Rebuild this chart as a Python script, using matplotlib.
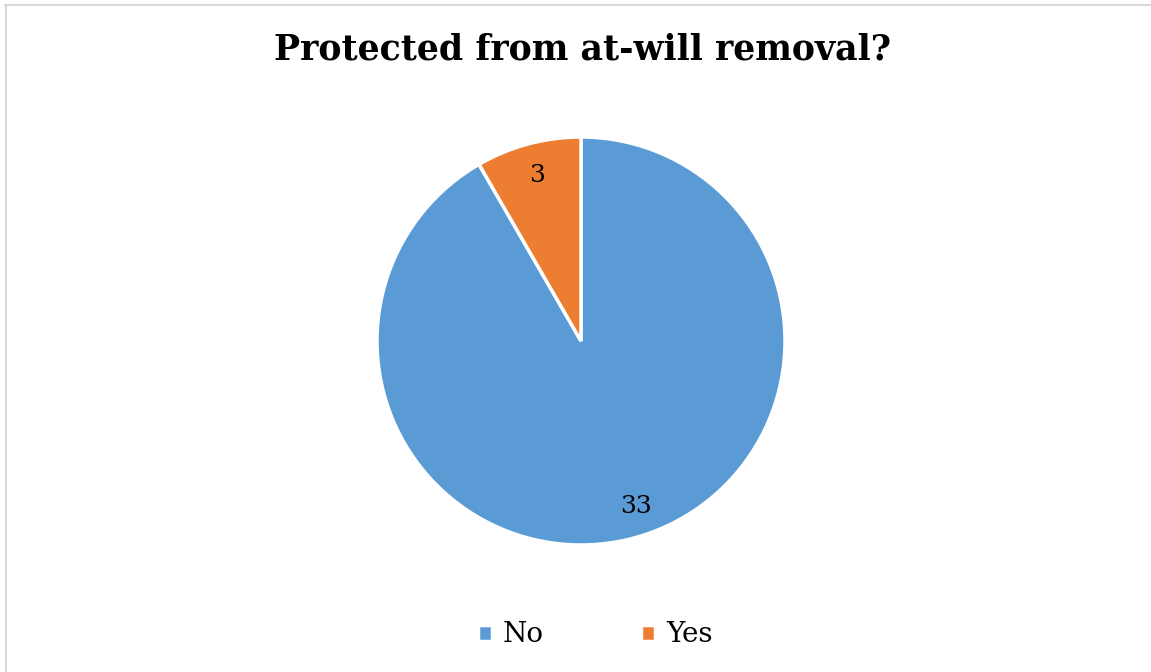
import matplotlib.pyplot as plt
from matplotlib.lines import Line2D

labels = ['No', 'Yes']
counts = [33, 3]
colors = ['#5B9BD5', '#ED7D31']

plt.rcParams['font.family'] = ['DejaVu Serif']

fig = plt.figure(figsize=(11.51, 6.72), dpi=100)

# light grey frame (only top and left visible in the original crop)
fig.add_artist(Line2D([5 / 1151, 1], [1 - 5 / 672, 1 - 5 / 672], color='#d9d9d9', lw=1.5))
fig.add_artist(Line2D([5.5 / 1151, 5.5 / 1151], [0, 1 - 5 / 672], color='#d9d9d9', lw=1.5))

ax = fig.add_axes([(581 - 204) / 1151, (672 - 341 - 204) / 672, 408 / 1151, 408 / 672])
wedges, texts = ax.pie(counts, colors=colors, startangle=90, counterclock=False,
                       labels=[str(c) for c in counts], labeldistance=0.84,
                       wedgeprops=dict(edgecolor='white', linewidth=2.5),
                       textprops=dict(fontsize=18, color='black', ha='center', va='center'))
texts[0].set_x(texts[0].get_position()[0] + 0.05)
ax.set_xlim(-1, 1)
ax.set_ylim(-1, 1)
ax.set_aspect('equal')

fig.text(0.506, 1 - 50 / 672, 'Protected from at-will removal?', ha='center', va='center',
         fontsize=25, fontweight='bold')

fig.legend(wedges, labels, loc='center', bbox_to_anchor=(0.517, 1 - 635 / 672), ncol=2,
           frameon=False, fontsize=20, handlelength=0.5, handleheight=0.5,
           columnspacing=3.5, handletextpad=0.4)

fig.savefig('out.png', dpi=100)
